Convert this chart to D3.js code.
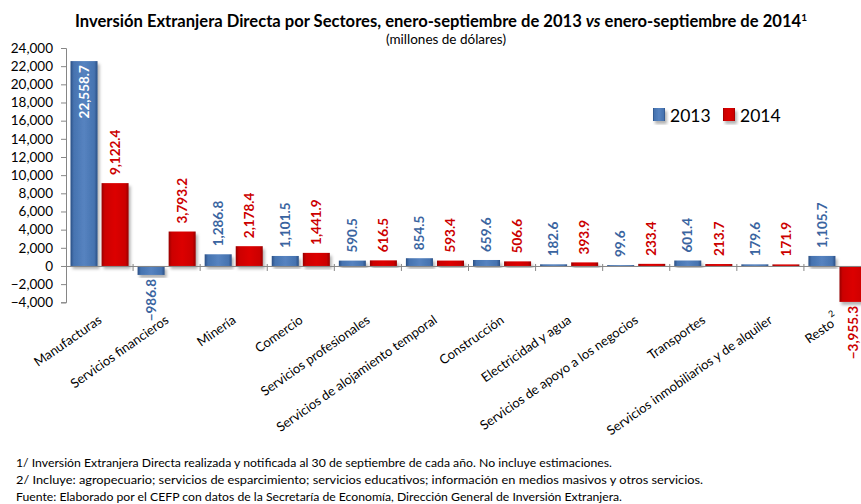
<!DOCTYPE html>
<html><head><meta charset="utf-8">
<script src="https://cdn.jsdelivr.net/npm/d3@7"></script>
<style>body{margin:0;background:#fff}svg{display:block}text{font-family:Lato,"Noto Sans",sans-serif}</style>
</head><body><svg id="c" width="861" height="504"></svg>
<script>
const categories = ["Manufacturas","Servicios financieros","Minería","Comercio","Servicios profesionales","Servicios de alojamiento  temporal","Construcción","Electricidad y agua","Servicios de apoyo a los negocios","Transportes","Servicios inmobiliarios y de alquiler","Resto"];
const series = ["2013","2014"];
const values2013 = [22558.7,-986.8,1286.8,1101.5,590.5,854.5,659.6,182.6,99.6,601.4,179.6,1105.7];
const values2014 = [9122.4,3793.2,2178.4,1441.9,616.5,593.4,506.6,393.9,233.4,213.7,171.9,-3955.3];
const yTicks = [-4000,-2000,0,2000,4000,6000,8000,10000,12000,14000,16000,18000,20000,22000,24000];
const footnotes = [
 "1/ Inversión Extranjera Directa realizada y notificada al 30 de septiembre de cada año. No incluye estimaciones.",
 "2/ Incluye: agropecuario; servicios de esparcimiento; servicios educativos; información en medios masivos y otros  servicios.",
 "Fuente: Elaborado por  el CEFP con datos de la Secretaría de Economía, Dirección General de Inversión Extranjera."
];

const svg = d3.select("#c");
const defs = svg.append("defs");
function grad(id, stops){
  const g = defs.append("linearGradient").attr("id",id).attr("x1",0).attr("x2",1).attr("y1",0).attr("y2",0);
  stops.forEach(s=>g.append("stop").attr("offset",s[0]).attr("stop-color",s[1]));
}
grad("gb",[[0,"#2a4f84"],[0.12,"#4673b0"],[0.5,"#5683c0"],[0.88,"#4673b0"],[1,"#2a4f84"]]);
grad("gr",[[0,"#960000"],[0.12,"#cc0000"],[0.5,"#dc0606"],[0.88,"#cc0000"],[1,"#960000"]]);
const f = defs.append("filter").attr("id","sh").attr("x","-20%").attr("y","-20%").attr("width","150%").attr("height","150%");
f.append("feDropShadow").attr("dx",2).attr("dy",3).attr("stdDeviation",1.8).attr("flood-color","#000").attr("flood-opacity",0.3);

const colors = {"2013":"url(#gb)","2014":"url(#gr)"};
const labelColors = {"2013":"#3a64a0","2014":"#cc0000"};

const x0 = d3.scaleBand().domain(categories).range([66,871]).padding(0);
const x1 = d3.scaleBand().domain(series).range([0,x0.bandwidth()]).paddingInner(0.13).paddingOuter(0.145);
const y = d3.scaleLinear().domain([-4000,24000]).range([302.3,48]);

// title
const t = svg.append("text").attr("x",441).attr("y",27).attr("text-anchor","middle")
  .attr("font-weight","bold").attr("font-size",16.5).attr("fill","#000")
  .attr("textLength",732).attr("lengthAdjust","spacingAndGlyphs");
t.append("tspan").text("Inversión Extranjera Directa por Sectores,  enero-septiembre de 2013 ");
t.append("tspan").attr("font-style","italic").text("vs");
t.append("tspan").text(" enero-septiembre de 2014");
t.append("tspan").attr("font-size",10).attr("dy",-6).text("1");
svg.append("text").attr("x",446).attr("y",44).attr("text-anchor","middle").attr("font-size",13.5).attr("fill","#000").text("(millones de dólares)");

// y axis
const yAxis = svg.append("g").attr("transform","translate(66,0)")
  .call(d3.axisLeft(y).tickValues(yTicks).tickFormat(d3.format(",")).tickSize(5).tickPadding(8));
yAxis.select(".domain").attr("stroke","#868686");
yAxis.selectAll(".tick line").attr("stroke","#868686");
yAxis.selectAll(".tick text").attr("font-family","Lato").attr("font-size",13.5).attr("fill","#000");

// bars
const data = categories.map((c,i)=>({c, vals:[{s:"2013",v:values2013[i]},{s:"2014",v:values2014[i]}]}));
const groups = svg.append("g").selectAll("g").data(data).join("g").attr("transform",d=>`translate(${x0(d.c)},0)`);
groups.selectAll("rect").data(d=>d.vals).join("rect")
  .attr("x",d=>x1(d.s)).attr("width",x1.bandwidth())
  .attr("y",d=>y(Math.max(0,d.v))).attr("height",d=>Math.abs(y(d.v)-y(0)))
  .attr("fill",d=>colors[d.s]).attr("filter","url(#sh)");

// x axis
const xAxis = svg.append("g").attr("transform",`translate(0,${y(0)})`)
  .call(d3.axisBottom(x0).tickSize(0).tickFormat(""));
xAxis.select(".domain").attr("stroke","#868686");
xAxis.selectAll(".tick").remove();
xAxis.selectAll(".bt").data(categories.slice(1)).join("line")
  .attr("x1",d=>x0(d)).attr("x2",d=>x0(d)).attr("y1",-2).attr("y2",5).attr("stroke","#868686");

// value labels
const fmt = d3.format(",.1f");
groups.selectAll("text.v").data(d=>d.vals).join("text").attr("class","v")
  .each(function(d){
    const cx = x1(d.s)+x1.bandwidth()/2;
    const el = d3.select(this);
    let yy, anchor, fill = labelColors[d.s];
    if (d.v >= 20000){ yy = y(d.v)+4; anchor="end"; fill="#fff"; }
    else if (d.v >= 0){ yy = y(d.v)-8; anchor="start"; }
    else { yy = y(d.v)+4; anchor="end"; }
    el.attr("transform",`translate(${cx},${yy}) rotate(-90)`).attr("dy","0.35em")
      .attr("text-anchor",anchor).attr("font-weight","bold").attr("font-size",13.5).attr("fill",fill)
      .text(fmt(d.v));
  });

// category labels
const cl = svg.append("g").selectAll("text").data(categories).join("text")
  .attr("transform",d=>`translate(${x0(d)+x0.bandwidth()/2+3},322) rotate(-35)`)
  .attr("text-anchor","end").attr("font-size",13).attr("fill","#000")
  .text(d=>d);
cl.filter(d=>d==="Resto").append("tspan").attr("font-size",9).attr("dy",-9).attr("dx",1).text("2");

// legend
const lg = svg.append("g");
series.forEach((s,i)=>{
  const lx = [653,723][i];
  lg.append("rect").attr("x",lx).attr("y",108).attr("width",12).attr("height",13).attr("fill",colors[s]).attr("filter","url(#sh)");
  lg.append("text").attr("x",lx+17).attr("y",122).attr("font-size",17.5).attr("fill","#000").text(s);
});

// footnotes
const fl = [596,687,606];
svg.append("g").selectAll("text").data(footnotes).join("text")
  .attr("x",16).attr("y",(d,i)=>467+i*17).attr("font-size",11.5).attr("fill","#000")
  .attr("textLength",(d,i)=>fl[i]).attr("lengthAdjust","spacingAndGlyphs").text(d=>d);
</script></body></html>
